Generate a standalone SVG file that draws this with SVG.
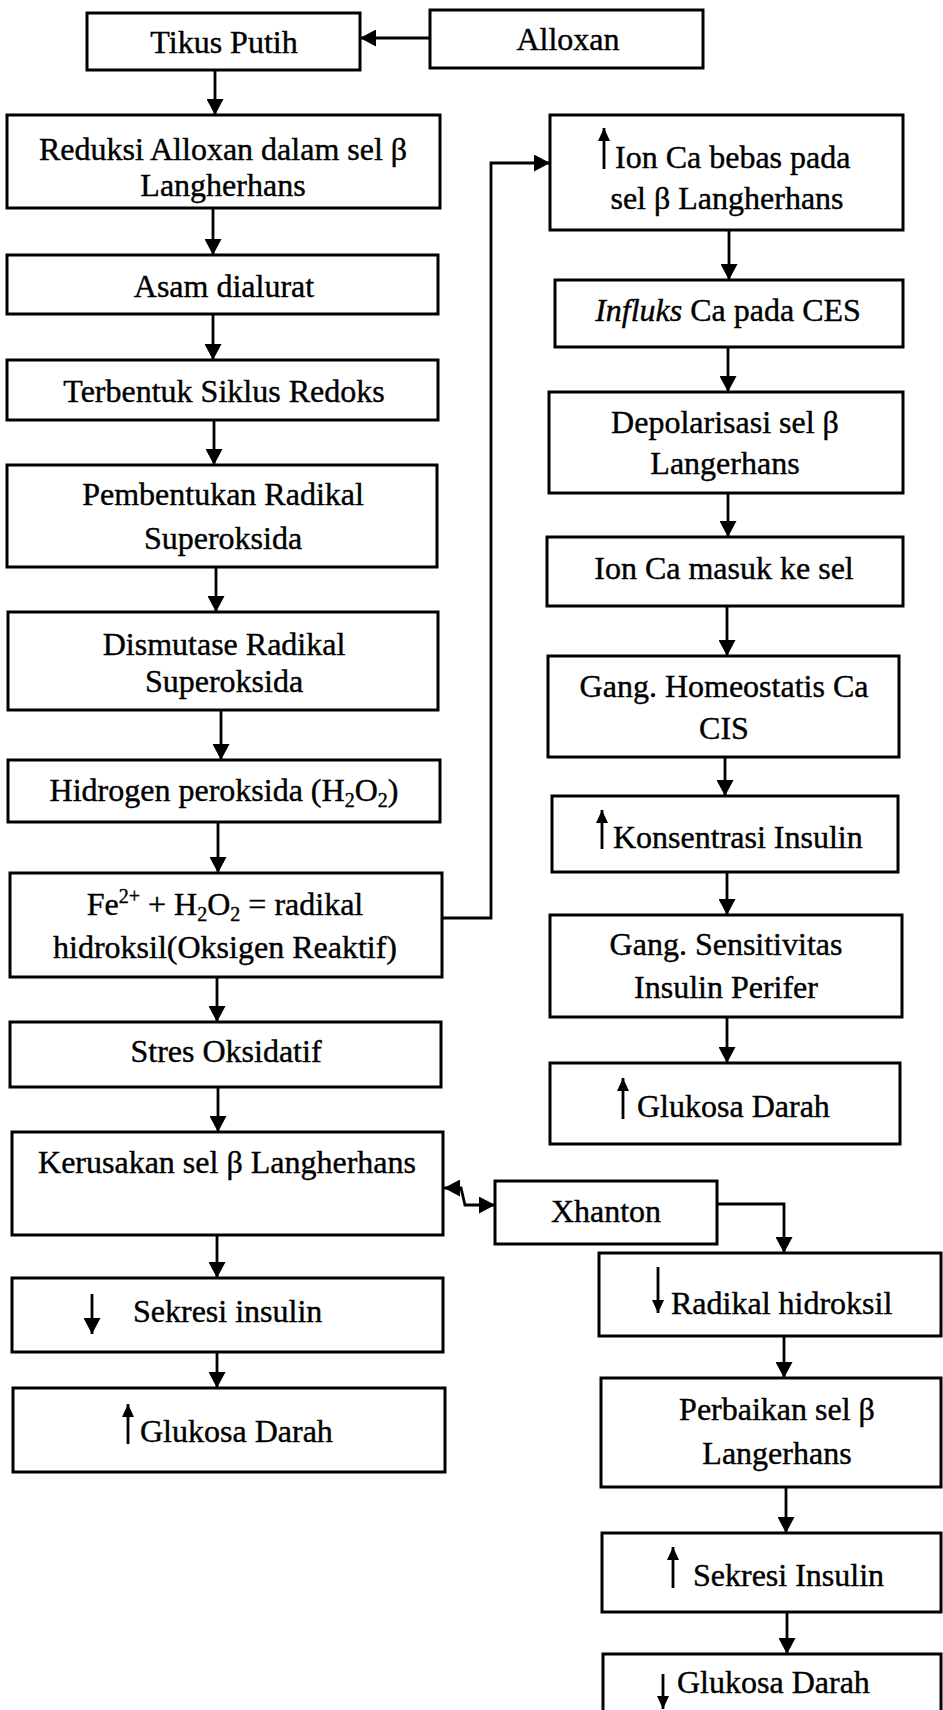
<svg xmlns="http://www.w3.org/2000/svg" width="943" height="1710" viewBox="0 0 943 1710">
<style>
.b{fill:#fff;stroke:#000;stroke-width:3}
.k{fill:none;stroke:#000;stroke-width:2.8}
.t{font-family:"Liberation Serif","Times New Roman",serif;font-size:32px;fill:#000;stroke:#000;stroke-width:0.4}
.c{text-anchor:middle}
.s{font-size:20px}
</style>
<defs>
<marker id="ah" viewBox="0 0 16 17" refX="16" refY="8.5" markerWidth="16" markerHeight="17" markerUnits="userSpaceOnUse" orient="auto-start-reverse"><path d="M0,0 L16,8.5 L0,17 z" fill="#000"/></marker>
<marker id="as" viewBox="0 0 13 12" refX="13" refY="6" markerWidth="13" markerHeight="12" markerUnits="userSpaceOnUse" orient="auto"><path d="M0,0 L13,6 L0,12 z" fill="#000"/></marker>
</defs>
<rect width="943" height="1710" fill="#fff"/>

<g id="connectors">
<line class="k" x1="430" y1="38" x2="360" y2="38" marker-end="url(#ah)"/>
<line class="k" x1="215" y1="70" x2="215" y2="115" marker-end="url(#ah)"/>
<line class="k" x1="213" y1="208" x2="213" y2="255" marker-end="url(#ah)"/>
<line class="k" x1="213" y1="314" x2="213" y2="360" marker-end="url(#ah)"/>
<line class="k" x1="214" y1="420" x2="214" y2="465" marker-end="url(#ah)"/>
<line class="k" x1="216" y1="567" x2="216" y2="612" marker-end="url(#ah)"/>
<line class="k" x1="221" y1="710" x2="221" y2="760" marker-end="url(#ah)"/>
<line class="k" x1="218" y1="822" x2="218" y2="873" marker-end="url(#ah)"/>
<line class="k" x1="217" y1="977" x2="217" y2="1022" marker-end="url(#ah)"/>
<line class="k" x1="218" y1="1087" x2="218" y2="1132" marker-end="url(#ah)"/>
<line class="k" x1="217" y1="1235" x2="217" y2="1278" marker-end="url(#ah)"/>
<line class="k" x1="217" y1="1352" x2="217" y2="1388" marker-end="url(#ah)"/>
<polyline class="k" points="442,918 491,918 491,163 550,163" marker-end="url(#ah)"/>
<line class="k" x1="729" y1="230" x2="729" y2="280" marker-end="url(#ah)"/>
<line class="k" x1="728" y1="347" x2="728" y2="392" marker-end="url(#ah)"/>
<line class="k" x1="728" y1="493" x2="728" y2="537" marker-end="url(#ah)"/>
<line class="k" x1="727" y1="606" x2="727" y2="656" marker-end="url(#ah)"/>
<line class="k" x1="725" y1="757" x2="725" y2="796" marker-end="url(#ah)"/>
<line class="k" x1="727" y1="872" x2="727" y2="915" marker-end="url(#ah)"/>
<line class="k" x1="727" y1="1017" x2="727" y2="1063" marker-end="url(#ah)"/>
<path class="k" d="M444,1188 L461,1188 L465,1205 L495,1205" marker-start="url(#ah)" marker-end="url(#ah)"/>
<polyline class="k" points="717,1204 784,1204 784,1253" marker-end="url(#ah)"/>
<line class="k" x1="784" y1="1336" x2="784" y2="1378" marker-end="url(#ah)"/>
<line class="k" x1="786" y1="1487" x2="786" y2="1533" marker-end="url(#ah)"/>
<line class="k" x1="787" y1="1612" x2="787" y2="1654" marker-end="url(#ah)"/>
</g>

<g id="tikus"><rect class="b" x="87" y="13" width="273" height="57"/><text class="t c" x="224" y="53">Tikus Putih</text></g>
<g id="alloxan"><rect class="b" x="430" y="10" width="273" height="58"/><text class="t c" x="568" y="50">Alloxan</text></g>
<g id="reduksi"><rect class="b" x="7" y="115" width="433" height="93"/><text class="t c" x="223" y="160">Reduksi Alloxan dalam sel β</text><text class="t c" x="223" y="196">Langherhans</text></g>
<g id="asam"><rect class="b" x="7" y="255" width="431" height="59"/><text class="t c" x="224" y="297">Asam dialurat</text></g>
<g id="redoks"><rect class="b" x="7" y="360" width="431" height="60"/><text class="t c" x="224" y="402">Terbentuk Siklus Redoks</text></g>
<g id="pembentukan"><rect class="b" x="7" y="465" width="430" height="102"/><text class="t c" x="223" y="505">Pembentukan Radikal</text><text class="t c" x="223" y="549">Superoksida</text></g>
<g id="dismutase"><rect class="b" x="8" y="612" width="430" height="98"/><text class="t c" x="224" y="655">Dismutase Radikal</text><text class="t c" x="224" y="692">Superoksida</text></g>
<g id="hidrogen"><rect class="b" x="8" y="760" width="432" height="62"/><text class="t c" x="224" y="801">Hidrogen peroksida (H<tspan class="s" dy="6">2</tspan><tspan dy="-6">O</tspan><tspan class="s" dy="6">2</tspan><tspan dy="-6">)</tspan></text></g>
<g id="fenton"><rect class="b" x="10" y="873" width="432" height="104"/><text class="t c" x="225" y="915">Fe<tspan class="s" dy="-12">2+</tspan><tspan dy="12"> + H</tspan><tspan class="s" dy="6">2</tspan><tspan dy="-6">O</tspan><tspan class="s" dy="6">2</tspan><tspan dy="-6"> = radikal</tspan></text><text class="t c" x="225" y="958">hidroksil(Oksigen Reaktif)</text></g>
<g id="stres"><rect class="b" x="10" y="1022" width="431" height="65"/><text class="t c" x="226" y="1062">Stres Oksidatif</text></g>
<g id="kerusakan"><rect class="b" x="12" y="1132" width="431" height="103"/><text class="t c" x="227" y="1173">Kerusakan sel β Langherhans</text></g>
<g id="sekresi-turun"><rect class="b" x="12" y="1278" width="431" height="74"/><line class="k" x1="92" y1="1294" x2="92" y2="1334" marker-end="url(#ah)"/><text class="t" x="133" y="1322">Sekresi insulin</text></g>
<g id="glukosa-naik-1"><rect class="b" x="13" y="1388" width="432" height="84"/><line class="k" x1="128" y1="1444" x2="128" y2="1404" marker-end="url(#as)"/><text class="t" x="140" y="1442">Glukosa Darah</text></g>

<g id="ionca"><rect class="b" x="550" y="115" width="353" height="115"/><line class="k" x1="604" y1="169" x2="604" y2="128" marker-end="url(#as)"/><text class="t" x="615" y="168">Ion Ca bebas pada</text><text class="t c" x="727" y="209">sel β Langherhans</text></g>
<g id="influks"><rect class="b" x="555" y="280" width="348" height="67"/><text class="t c" x="728" y="321"><tspan font-style="italic">Influks</tspan> Ca pada CES</text></g>
<g id="depolarisasi"><rect class="b" x="549" y="392" width="354" height="101"/><text class="t c" x="725" y="433">Depolarisasi sel β</text><text class="t c" x="725" y="474">Langerhans</text></g>
<g id="ionmasuk"><rect class="b" x="547" y="537" width="356" height="69"/><text class="t c" x="724" y="579">Ion Ca masuk ke sel</text></g>
<g id="homeostatis"><rect class="b" x="548" y="656" width="351" height="101"/><text class="t c" x="724" y="697">Gang. Homeostatis Ca</text><text class="t c" x="724" y="739">CIS</text></g>
<g id="konsentrasi"><rect class="b" x="552" y="796" width="346" height="76"/><line class="k" x1="602" y1="849" x2="602" y2="810" marker-end="url(#as)"/><text class="t" x="613" y="848">Konsentrasi Insulin</text></g>
<g id="sensitivitas"><rect class="b" x="550" y="915" width="352" height="102"/><text class="t c" x="726" y="955">Gang. Sensitivitas</text><text class="t c" x="726" y="998">Insulin Perifer</text></g>
<g id="glukosa-naik-2"><rect class="b" x="550" y="1063" width="350" height="81"/><line class="k" x1="623" y1="1119" x2="623" y2="1078" marker-end="url(#as)"/><text class="t" x="637" y="1117">Glukosa Darah</text></g>

<g id="xhanton"><rect class="b" x="495" y="1181" width="222" height="63"/><text class="t c" x="606" y="1222">Xhanton</text></g>
<g id="radikal"><rect class="b" x="599" y="1253" width="342" height="83"/><line class="k" x1="658" y1="1267" x2="658" y2="1313" marker-end="url(#as)"/><text class="t" x="671" y="1314">Radikal hidroksil</text></g>
<g id="perbaikan"><rect class="b" x="601" y="1378" width="340" height="109"/><text class="t c" x="777" y="1420">Perbaikan sel β</text><text class="t c" x="777" y="1464">Langerhans</text></g>
<g id="sekresi-naik"><rect class="b" x="602" y="1533" width="339" height="79"/><line class="k" x1="673" y1="1588" x2="673" y2="1547" marker-end="url(#as)"/><text class="t" x="693" y="1586">Sekresi Insulin</text></g>
<g id="glukosa-turun"><rect class="b" x="603" y="1654" width="338" height="70"/><line class="k" x1="663" y1="1674" x2="663" y2="1709" marker-end="url(#as)"/><text class="t" x="677" y="1693">Glukosa Darah</text></g>
</svg>
